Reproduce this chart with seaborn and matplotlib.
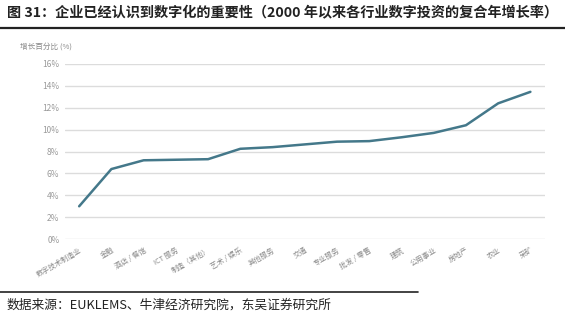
import matplotlib
matplotlib.use("Agg")
import matplotlib.pyplot as plt
import seaborn as sns
import pandas as pd

categories = ["数字技术制造业", "金融", "酒店 / 餐馆", "ICT 服务", "制造（其他）", "艺术 / 娱乐",
              "其他服务", "交通", "专业服务", "批发 / 零售", "建筑", "公用事业", "房地产", "农业", "采矿"]
growth = [3.0, 6.4, 7.2, 7.25, 7.3, 8.25, 8.4, 8.65, 8.9, 8.95, 9.3, 9.7, 10.4, 12.4, 13.45]
yticks = [0, 2, 4, 6, 8, 10, 12, 14, 16]
ytick_labels = [f"{v}%" for v in yticks]

sns.set_style("white")
plt.rcParams['font.family'] = ['Noto Sans CJK SC', 'DejaVu Sans']

df = pd.DataFrame({"cat": categories, "val": growth, "x": range(len(categories))})

fig = plt.figure(figsize=(5.65, 3.18), dpi=100)
ax = fig.add_axes([0.115, 0.248, 0.85, 0.551])
sns.lineplot(data=df, x="x", y="val", ax=ax, color="#44788a", linewidth=1.8)

ax.set_xlim(-0.44, len(categories) - 1 + 0.46)
ax.set_ylim(0, 16)
ax.set_yticks(yticks)
ax.set_yticklabels(ytick_labels, color="#9a9a9a", fontsize=6)
ax.set_xticks(range(len(categories)))
ax.set_xticklabels(categories, rotation=30, ha="right", rotation_mode="anchor",
                   color="#8a8a8a", fontsize=5.2)
ax.tick_params(axis="both", length=0, pad=4)
ax.tick_params(axis="x", pad=5)
ax.grid(axis="y", color="#dcdcdc", linewidth=1)
for s in ax.spines.values():
    s.set_visible(False)
ax.set_xlabel("")
ax.set_ylabel("")

fig.text(0.035, 0.852, "增长百分比 (%)", fontsize=5.5, color="#8a8a8a", va="center", ha="left")

fig.text(0.012, 0.962, "图 31：企业已经认识到数字化的重要性（2000 年以来各行业数字投资的复合年增长率）",
         fontsize=10.2, fontweight="bold", color="#222222", va="center", ha="left")
fig.add_artist(plt.Line2D([0, 1], [0.913, 0.913], transform=fig.transFigure, color="#222222", linewidth=1.6))

fig.add_artist(plt.Line2D([0, 0.74], [0.082, 0.082], transform=fig.transFigure, color="#222222", linewidth=1.2))
fig.text(0.012, 0.04, "数据来源：EUKLEMS、牛津经济研究院，东吴证券研究所",
         fontsize=9.2, color="#222222", va="center", ha="left")

fig.savefig("out.png", dpi=100, facecolor="white")
